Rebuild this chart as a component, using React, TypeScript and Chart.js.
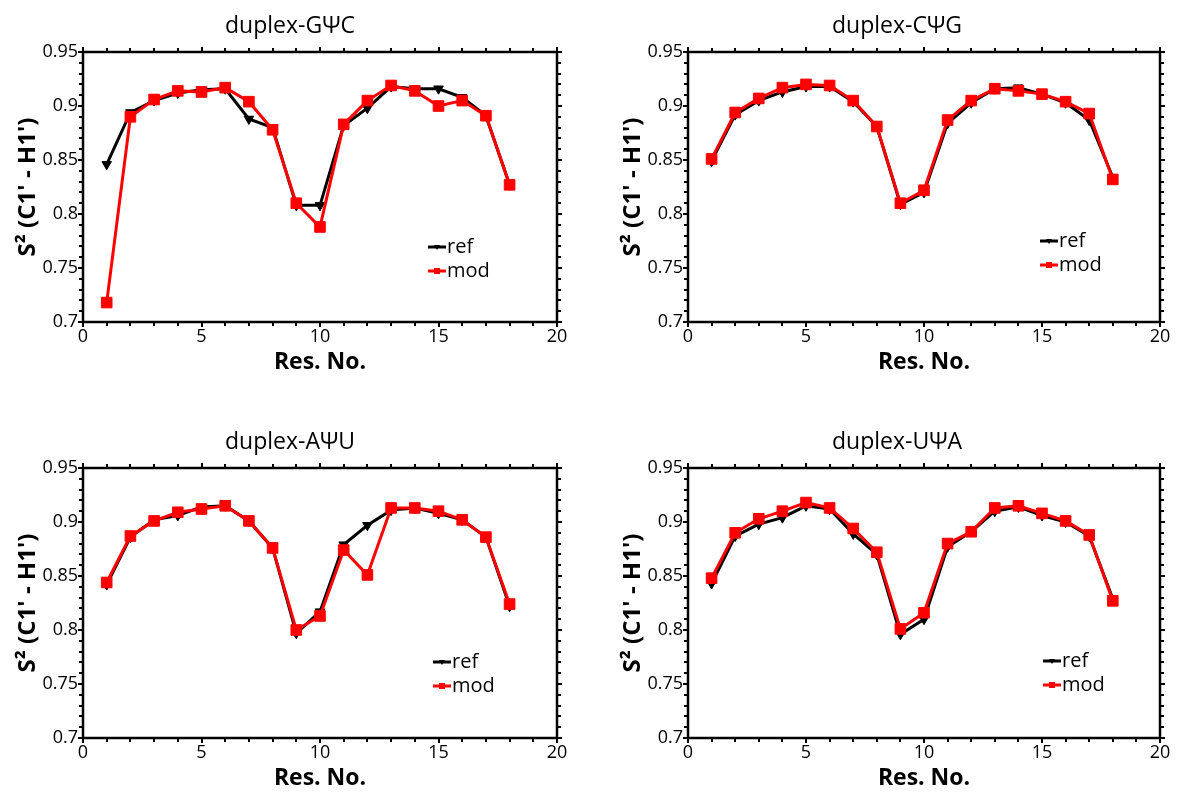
import React, { useEffect, useRef } from 'react';
import { Chart, registerables } from 'chart.js';

Chart.register(...registerables);

// ---------- data ----------
const residues = [1, 2, 3, 4, 5, 6, 7, 8, 9, 10, 11, 12, 13, 14, 15, 16, 17, 18];

const gpcRef = [0.846, 0.894, 0.905, 0.912, 0.915, 0.916, 0.888, 0.880, 0.808, 0.808, 0.882, 0.898, 0.918, 0.916, 0.916, 0.908, 0.891, 0.827];
const gpcMod = [0.718, 0.890, 0.906, 0.914, 0.913, 0.917, 0.904, 0.878, 0.810, 0.788, 0.883, 0.905, 0.919, 0.914, 0.900, 0.905, 0.891, 0.827];

const cpgRef = [0.849, 0.892, 0.905, 0.913, 0.918, 0.918, 0.904, 0.881, 0.809, 0.820, 0.884, 0.903, 0.916, 0.917, 0.911, 0.903, 0.887, 0.834];
const cpgMod = [0.851, 0.894, 0.907, 0.917, 0.920, 0.919, 0.905, 0.881, 0.810, 0.822, 0.887, 0.905, 0.916, 0.914, 0.911, 0.904, 0.893, 0.832];

const apuRef = [0.842, 0.886, 0.902, 0.906, 0.914, 0.915, 0.901, 0.876, 0.797, 0.817, 0.879, 0.897, 0.911, 0.913, 0.908, 0.902, 0.886, 0.822];
const apuMod = [0.844, 0.887, 0.901, 0.909, 0.912, 0.915, 0.901, 0.876, 0.800, 0.813, 0.874, 0.851, 0.913, 0.913, 0.910, 0.902, 0.886, 0.824];

const upaRef = [0.843, 0.887, 0.898, 0.904, 0.915, 0.912, 0.889, 0.870, 0.796, 0.810, 0.877, 0.891, 0.910, 0.914, 0.906, 0.900, 0.887, 0.829];
const upaMod = [0.848, 0.890, 0.903, 0.910, 0.918, 0.913, 0.894, 0.872, 0.801, 0.816, 0.880, 0.891, 0.913, 0.915, 0.908, 0.901, 0.888, 0.827];

const panelTitles = ['duplex-GΨC', 'duplex-CΨG', 'duplex-AΨU', 'duplex-UΨA'];
const seriesNames = ['ref', 'mod'];
const xTickValues = [0, 5, 10, 15, 20];
const yTickValues = [0.7, 0.75, 0.8, 0.85, 0.9, 0.95];
const yTickLabels = ['0.7', '0.75', '0.8', '0.85', '0.9', '0.95'];
const xAxisTitle = 'Res. No.';
const yAxisTitle = "S² (C1' - H1')";

const panelSeries = [
  [gpcRef, gpcMod],
  [cpgRef, cpgMod],
  [apuRef, apuMod],
  [upaRef, upaMod],
];

// ---------- layout / style (not data) ----------
const FONT = "'Open Sans', 'DejaVu Sans', sans-serif";
const panelBoxes = [
  { left: 0, top: 0, padRight: 33, titleX: 290, legendDX: 345, legendDY: 195 },
  { left: 605, top: 0, padRight: 35, titleX: 292, legendDX: 352, legendDY: 189 },
  { left: 0, top: 416, padRight: 33, titleX: 290, legendDX: 350, legendDY: 194 },
  { left: 605, top: 416, padRight: 35, titleX: 292, legendDX: 355, legendDY: 193 },
];
const CW = 590;
const CH = 395;

function titlePlugin(text: string, x: number) {
  return {
    id: 'panelTitle',
    afterDraw(chart: any) {
      const { ctx } = chart;
      ctx.save();
      ctx.fillStyle = '#000';
      ctx.font = `500 23px ${FONT}`;
      ctx.textAlign = 'center';
      ctx.textBaseline = 'middle';
      ctx.fillText(text, x, 26);
      ctx.restore();
    },
  };
}

function frameTicksPlugin() {
  return {
    id: 'frameTicks',
    beforeDatasetsDraw(chart: any) {
      const { ctx, chartArea } = chart;
      const { left, right, top, bottom } = chartArea;
      const xs = chart.scales.x;
      const ys = chart.scales.y;
      ctx.save();
      ctx.strokeStyle = '#000';
      ctx.lineWidth = 2.5;
      ctx.strokeRect(left, top, right - left, bottom - top);
      ctx.lineWidth = 2;
      ctx.beginPath();
      for (let v = 0; v <= 20; v++) {
        const px = Math.round(xs.getPixelForValue(v));
        const len = v % 5 === 0 ? 5 : 4;
        ctx.moveTo(px, bottom - 1);
        ctx.lineTo(px, bottom + len);
        ctx.moveTo(px, top + 1);
        ctx.lineTo(px, top - len);
      }
      for (let i = 0; i <= 25; i++) {
        const v = 0.7 + i * 0.01;
        const py = Math.round(ys.getPixelForValue(v));
        const len = i % 5 === 0 ? 5 : 4;
        ctx.moveTo(left + 1, py);
        ctx.lineTo(left - len, py);
        ctx.moveTo(right - 1, py);
        ctx.lineTo(right + len, py);
      }
      ctx.stroke();
      ctx.restore();
    },
  };
}

function legendPlugin(dx: number, dy: number) {
  return {
    id: 'customLegend',
    afterDatasetsDraw(chart: any) {
      const { ctx, chartArea } = chart;
      const x0 = chartArea.left + dx;
      const y0 = chartArea.top + dy;
      ctx.save();
      chart.data.datasets.forEach((ds: any, i: number) => {
        const y = y0 + i * 24;
        ctx.strokeStyle = ds.borderColor;
        ctx.fillStyle = ds.borderColor;
        ctx.lineWidth = 3;
        ctx.beginPath();
        ctx.moveTo(x0, y);
        ctx.lineTo(x0 + 18, y);
        ctx.stroke();
        if (ds.pointStyle === 'rect') {
          ctx.fillRect(x0 + 6, y - 3, 6, 6);
        } else {
          ctx.beginPath();
          ctx.moveTo(x0 + 6, y - 2);
          ctx.lineTo(x0 + 12, y - 2);
          ctx.lineTo(x0 + 9, y + 3);
          ctx.closePath();
          ctx.fill();
        }
        ctx.fillStyle = '#000';
        ctx.font = `500 20px ${FONT}`;
        ctx.textBaseline = 'middle';
        ctx.textAlign = 'left';
        ctx.fillText(ds.label, x0 + 19, y);
      });
      ctx.restore();
    },
  };
}

function Panel({ index }: { index: number }) {
  const ref = useRef<HTMLCanvasElement | null>(null);
  useEffect(() => {
    if (!ref.current) return;
    const box = panelBoxes[index];
    const [refVals, modVals] = panelSeries[index];
    const chart = new Chart(ref.current, {
      type: 'line',
      data: {
        datasets: [
          {
            label: seriesNames[0],
            data: residues.map((r, i) => ({ x: r, y: refVals[i] })),
            borderColor: '#000000',
            backgroundColor: '#000000',
            pointBackgroundColor: '#000000',
            pointBorderColor: '#000000',
            borderWidth: 3,
            pointStyle: 'triangle',
            rotation: 180,
            pointRadius: 5.5,
            pointBorderWidth: 1,
            order: 1,
          } as any,
          {
            label: seriesNames[1],
            data: residues.map((r, i) => ({ x: r, y: modVals[i] })),
            borderColor: '#ff0000',
            backgroundColor: '#ff0000',
            pointBackgroundColor: '#ff0000',
            pointBorderColor: '#ff0000',
            borderWidth: 3,
            pointStyle: 'rect',
            pointRadius: 7.5,
            pointBorderWidth: 1,
            order: 0,
          } as any,
        ],
      },
      options: {
        animation: false,
        responsive: false,
        maintainAspectRatio: false,
        layout: { padding: { left: 0, right: box.padRight, top: 52, bottom: 0 } },
        plugins: {
          legend: { display: false },
          tooltip: { enabled: false },
          title: { display: false },
        },
        scales: {
          x: {
            type: 'linear',
            min: 0,
            max: 20,
            afterBuildTicks: (s: any) => {
              s.ticks = xTickValues.map((v) => ({ value: v }));
            },
            afterFit: (s: any) => {
              s.height = 73;
            },
            ticks: {
              color: '#000',
              font: { family: FONT, size: 18, weight: '500' },
              padding: 4,
              maxRotation: 0,
              autoSkip: false,
              callback: (v: any) => String(v),
            },
            grid: { display: false, drawTicks: false },
            border: { display: false },
            title: {
              display: true,
              text: xAxisTitle,
              color: '#000',
              font: { family: FONT, size: 23, weight: 'bold' },
              padding: { top: 0, bottom: 19 },
            },
          },
          y: {
            type: 'linear',
            min: 0.7,
            max: 0.95,
            afterBuildTicks: (s: any) => {
              s.ticks = yTickValues.map((v) => ({ value: v }));
            },
            afterFit: (s: any) => {
              s.width = 83;
            },
            ticks: {
              color: '#000',
              font: { family: FONT, size: 18, weight: '500' },
              padding: 5,
              autoSkip: false,
              callback: (v: any) => {
                const k = yTickValues.findIndex((t) => Math.abs(t - v) < 1e-9);
                return k >= 0 ? yTickLabels[k] : '';
              },
            },
            grid: { display: false, drawTicks: false },
            border: { display: false },
            title: {
              display: true,
              text: yAxisTitle,
              color: '#000',
              font: { family: FONT, size: 24, weight: 'bold' },
              padding: { top: 14, bottom: 0 },
            },
          },
        },
      } as any,
      plugins: [
        frameTicksPlugin(),
        legendPlugin(box.legendDX, box.legendDY),
        titlePlugin(panelTitles[index], box.titleX),
      ],
    });
    return () => chart.destroy();
  }, [index]);
  const box = panelBoxes[index];
  return (
    <div style={{ position: 'absolute', left: box.left, top: box.top, width: CW, height: CH }}>
      <canvas ref={ref} width={CW} height={CH} style={{ width: CW, height: CH, display: 'block' }} />
    </div>
  );
}

export default function App() {
  return (
    <div
      style={{
        position: 'absolute',
        left: 0,
        top: 0,
        width: 1178,
        height: 795,
        overflow: 'hidden',
        background: '#fff',
      }}
    >
      {[0, 1, 2, 3].map((i) => (
        <Panel key={i} index={i} />
      ))}
    </div>
  );
}
